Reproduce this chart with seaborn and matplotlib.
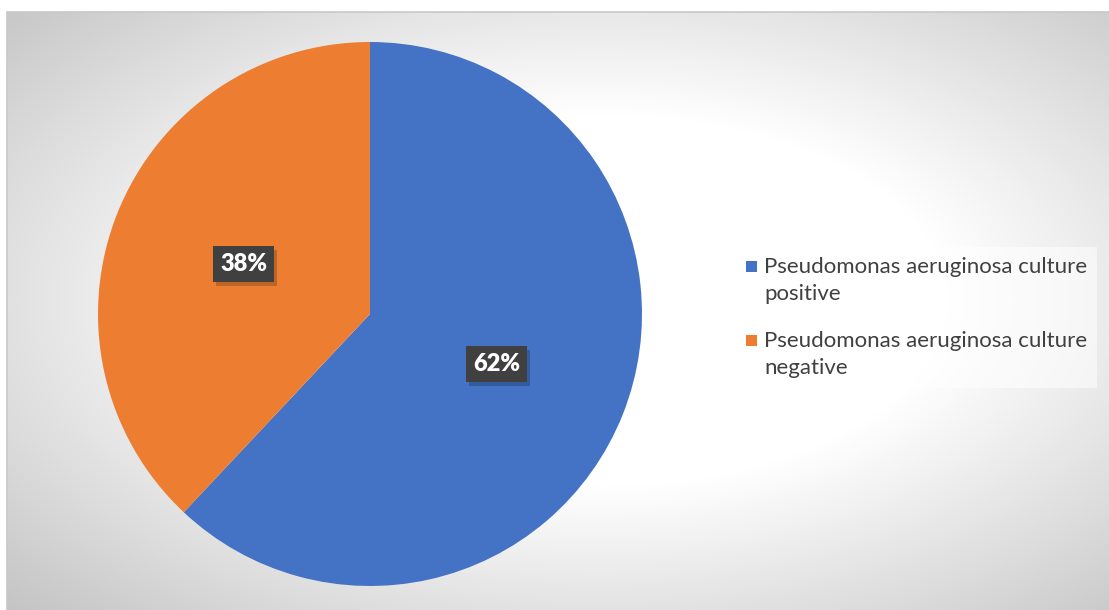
import numpy as np
import matplotlib
matplotlib.use("Agg")
import matplotlib.pyplot as plt
import matplotlib.patheffects as pe
from matplotlib.patches import Rectangle
from matplotlib.legend_handler import HandlerPatch
import seaborn as sns

categories = ["Pseudomonas aeruginosa culture\npositive",
              "Pseudomonas aeruginosa culture\nnegative"]
values = [62, 38]
colors = ["#4472C4", "#ED7D31"]

sns.set_style("white")
plt.rcParams['font.family'] = ['Lato', 'DejaVu Sans']

W, H = 1109, 610
fig = plt.figure(figsize=(W / 100, H / 100), dpi=100)
fig.patch.set_facecolor("white")

# radial gradient background for chart area
bg = fig.add_axes([7 / W, 0, (W - 7) / W, (H - 12) / H], zorder=0)
yy, xx = np.mgrid[12:H, 7:W]
cx, cy = 600, 300
r = np.sqrt(((xx - cx) / 560) ** 2 + ((yy - cy) / 300) ** 2)
g = np.clip(1 - (r - 0.62) * 0.27, 0.77, 1.0)
bg.imshow(np.dstack([g, g, g]), aspect="auto", extent=[0, 1, 0, 1], origin="upper")
bg.set_xlim(0, 1)
bg.set_ylim(0, 1)
bg.set_axis_off()
fig.add_artist(plt.Line2D([7 / W, 1], [(H - 12) / H] * 2, color="#c8c8c8", lw=1.2, transform=fig.transFigure))
fig.add_artist(plt.Line2D([7 / W, 7 / W], [0, (H - 12) / H], color="#c8c8c8", lw=1.2, transform=fig.transFigure))

# pie
R = 272
cxp, cyp = 370, 314
ax = fig.add_axes([(cxp - R) / W, (H - cyp - R) / H, 2 * R / W, 2 * R / H], zorder=2)
ax.patch.set_alpha(0)
wedges, texts, autotexts = ax.pie(
    values, colors=colors, startangle=90, counterclock=False, radius=1,
    autopct=lambda p: f"{p:.0f}%", pctdistance=0.5,
    wedgeprops=dict(linewidth=0),
    textprops=dict(color="white", fontsize=17, fontweight="heavy"))
ax.set_xlim(-1, 1)
ax.set_ylim(-1, 1)
ax.set_aspect("equal")
ax.set_axis_off()
for t in autotexts:
    t.set_bbox(dict(boxstyle="square,pad=0.3", facecolor="#404040", edgecolor="none"))
    t.get_bbox_patch().set_path_effects([
        pe.withSimplePatchShadow(offset=(2, -3), shadow_rgbFace="black", alpha=0.2), pe.Normal()])


def square_top(legend, orig_handle, xdescent, ydescent, width, height, fontsize):
    s = 8.0
    return Rectangle((-xdescent, -ydescent + height / 2 - s / 2 + 10.5), s, s)


# legend
leg = fig.legend(wedges, categories, loc="upper left",
                 bbox_to_anchor=(725 / W, 1 - 236 / H),
                 frameon=True, fancybox=False, facecolor="white", framealpha=0.55,
                 edgecolor="none", fontsize=16, labelcolor="#404040",
                 handlelength=0.5, handleheight=0.5, handletextpad=0.3,
                 labelspacing=1.2, borderpad=0.45,
                 handler_map={w: HandlerPatch(patch_func=square_top) for w in wedges})
for t in leg.get_texts():
    t.set_linespacing(1.45)
leg.set_zorder(3)

fig.savefig("out.png", dpi=100)
